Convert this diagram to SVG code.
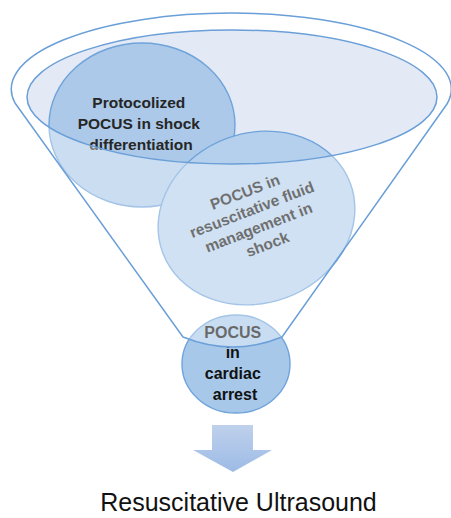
<svg xmlns="http://www.w3.org/2000/svg" width="451" height="518" viewBox="0 0 451 518">
  <style>
    .lbl { font-family: "Liberation Sans", Arial, sans-serif; font-weight: bold; text-anchor: middle; }
    .outline { fill: none; stroke: #6a9fd8; stroke-width: 1.5; stroke-linejoin: round; }
    .circ { stroke: #6fa3da; stroke-width: 1.4; }
  </style>
  <defs>
    <linearGradient id="arrowGrad" x1="0" y1="0" x2="0" y2="1">
      <stop offset="0" stop-color="#bfd1ec"/>
      <stop offset="1" stop-color="#9dbbe6"/>
    </linearGradient>
  </defs>

  <!-- opening of the funnel (fill beneath circles) -->
  <ellipse cx="232" cy="97" rx="205" ry="67" fill="#e3eaf6"/>

  <g id="node-shock-differentiation">
    <ellipse class="circ" cx="142" cy="125" rx="93" ry="82" fill="#acc9e9"/>
    <text class="lbl" font-size="15.5" fill="#262626">
      <tspan x="141" y="108">Protocolized</tspan>
      <tspan x="141" y="129">POCUS in shock</tspan>
      <tspan x="141" y="150">differentiation</tspan>
    </text>
  </g>

  <g id="node-fluid-management">
    <ellipse class="circ" cx="256.5" cy="218" rx="100" ry="85" transform="rotate(-20 256.5 218)" fill="#b5d0ec" stroke="#8fb8e2"/>
    <text class="lbl" font-size="15.5" fill="#1a1a1a" transform="translate(257.5 218.5) rotate(-21)">
      <tspan x="0" y="-24">POCUS in</tspan>
      <tspan x="0" y="-5">resuscitative fluid</tspan>
      <tspan x="0" y="14">management in</tspan>
      <tspan x="0" y="33">shock</tspan>
    </text>
  </g>

  <g id="node-cardiac-arrest">
    <ellipse class="circ" cx="236" cy="364" rx="54" ry="49" fill="#a8c8ea"/>
    <text class="lbl" font-size="16" fill="#111111">
      <tspan x="235" y="338">POCUS</tspan>
      <tspan x="235" y="358">in</tspan>
      <tspan x="235" y="379">cardiac</tspan>
      <tspan x="235" y="400">arrest</tspan>
    </text>
  </g>

  <!-- translucent funnel body (excluding the opening) -->
  <path fill="#ffffff" fill-opacity="0.37" fill-rule="evenodd"
        d="M 15,103 A 220,76 0 1 1 447,104 L 282,337 Q 233,357 183,337 Z
           M 27,97 A 205,67 0 1 0 437,97 A 205,67 0 1 0 27,97 Z"/>

  <g id="funnel">
    <path class="outline" d="M 15,103 A 220,76 0 1 1 447,104 L 282,337 Q 233,357 183,337 Z"/>
    <ellipse class="outline" cx="232" cy="97" rx="205" ry="67"/>
  </g>

  <g id="connectors">
    <path d="M 212,425 H 253 V 450 H 272 L 233,472 L 193,450 H 212 Z" fill="url(#arrowGrad)"/>
  </g>

  <g id="node-title">
    <text x="238.5" y="511" font-family="'Liberation Sans', Arial, sans-serif" font-size="25" text-anchor="middle" fill="#111111">Resuscitative Ultrasound</text>
  </g>
</svg>
